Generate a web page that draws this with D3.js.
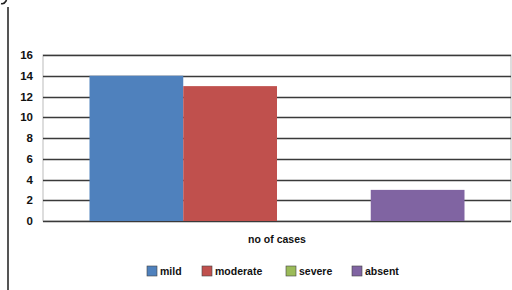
<!DOCTYPE html>
<html><head><meta charset="utf-8">
<script src="https://cdn.jsdelivr.net/npm/d3@7"></script>
<style>body{margin:0;background:#fff}svg{display:block}</style>
</head><body>
<svg id="c" width="512" height="290"></svg>
<script>
const categories = ["no of cases"];
const seriesNames = ["mild", "moderate", "severe", "absent"];
const seriesValues = [14, 13, 0, 3];
const seriesColors = ["#4f81bd", "#c0504d", "#9bbb59", "#8064a2"];
const yTicks = [0, 2, 4, 6, 8, 10, 12, 14, 16];

(function () {
const svg = d3.select("#c");
const font = "'Liberation Sans', Arial, sans-serif";
const pL = 43, pR = 511, pT = 55, pB = 221;

// outer left border
svg.append("line").attr("x1", 8).attr("x2", 8).attr("y1", 7).attr("y2", 290)
  .attr("stroke", "#555").attr("stroke-width", 2);
// cropped glyph fragment at top-left
svg.append("path").attr("d", "M1,3.5 Q4,4.5 6,1 L6.5,0")
  .attr("fill", "none").attr("stroke", "#222").attr("stroke-width", 1.6);

const y = d3.scaleLinear().domain([0, 16]).range([pB, pT]);
const x0 = d3.scaleBand().domain(categories).range([pL, pR]).paddingInner(0).paddingOuter(0.124);
const x1 = d3.scaleBand().domain(seriesNames).range([0, x0.bandwidth()]).padding(0);

// plot area border
svg.append("rect").attr("x", pL).attr("y", pT).attr("width", pR - pL).attr("height", pB - pT)
  .attr("fill", "#fff").attr("stroke", "#bbb").attr("stroke-width", 1);

// gridlines
svg.append("g").selectAll("line").data(yTicks).join("line")
  .attr("x1", pL).attr("x2", pR)
  .attr("y1", d => Math.round(y(d)) + 0.5).attr("y2", d => Math.round(y(d)) + 0.5)
  .attr("stroke", "#3a3a3a").attr("stroke-width", 1.6);

// y axis labels
const yAxis = d3.axisLeft(y).tickValues(yTicks).tickSize(0).tickPadding(10);
const ga = svg.append("g").attr("transform", `translate(${pL},0)`).call(yAxis);
ga.select(".domain").remove();
ga.selectAll("text").attr("font-family", font).attr("font-weight", "bold").attr("font-size", 11.5).attr("fill", "#111");

// bars
const g = svg.append("g").attr("transform", `translate(${x0(categories[0])},0)`);
g.selectAll("rect").data(seriesNames).join("rect")
  .attr("x", d => x1(d)).attr("width", x1.bandwidth())
  .attr("y", (d, i) => y(seriesValues[i])).attr("height", (d, i) => y(0) - y(seriesValues[i]))
  .attr("fill", (d, i) => seriesColors[i]);

// x category label
svg.append("text").attr("x", x0(categories[0]) + x0.bandwidth() / 2).attr("y", 243)
  .attr("text-anchor", "middle").text(categories[0])
  .attr("font-family", font).attr("font-weight", "bold").attr("font-size", 10.5).attr("fill", "#111");

// legend
const legX = [147, 202, 286, 352];
const lg = svg.append("g").selectAll("g").data(seriesNames).join("g")
  .attr("transform", (d, i) => `translate(${legX[i]},266)`);
lg.append("rect").attr("width", 10).attr("height", 10)
  .attr("fill", (d, i) => seriesColors[i]).attr("stroke", "#444").attr("stroke-width", 0.6);
lg.append("text").attr("x", 13).attr("y", 9).text(d => d)
  .attr("font-family", font).attr("font-weight", "bold").attr("font-size", 10.5).attr("fill", "#111");
})();
</script>
</body></html>
